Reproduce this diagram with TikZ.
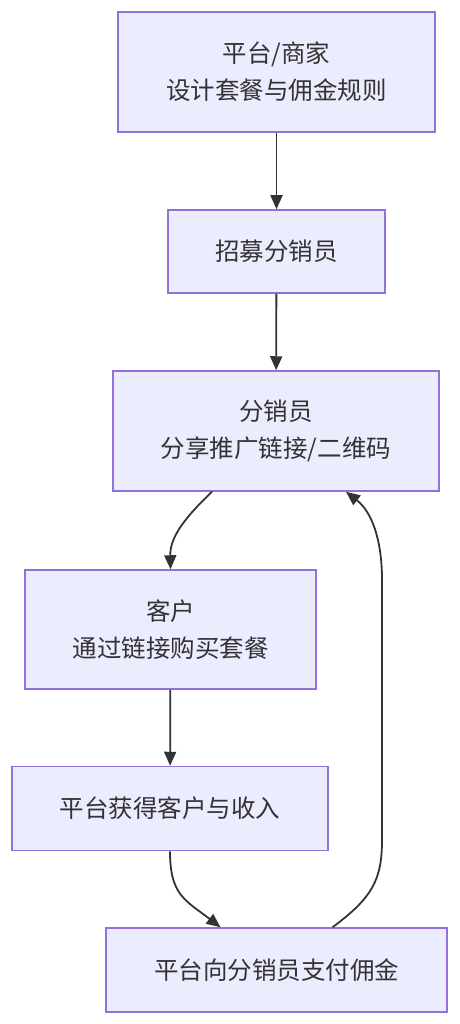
\documentclass[tikz,border=0pt]{standalone}
\usepackage{fontspec}
\usepackage{tikz}
\usetikzlibrary{arrows.meta}
\newfontfamily\cjk{Noto Sans CJK SC}
\definecolor{boxfill}{HTML}{ECECFF}
\definecolor{boxline}{HTML}{9370DB}
\definecolor{ink}{HTML}{333333}

\begin{document}
\begin{tikzpicture}[x=1pt,y=-1pt,
  >={Triangle[length=14pt,width=12pt]},
  box/.style={draw=boxline,fill=boxfill,line width=1.5pt,text=ink,align=center,
    inner sep=0pt,font=\cjk\fontsize{24.5}{37}\selectfont},
  link/.style={->,draw=ink,line width=1.8pt}]
			\useasboundingbox (0,0) rectangle (459,1024);
			\node[box,minimum width=317pt,minimum height=120pt] (plat) at (276.5,72) {平台/商家\\设计套餐与佣金规则};
			\node[box,minimum width=217pt,minimum height=83pt] (recruit) at (276.5,251.5) {招募分销员};
			\node[box,minimum width=326pt,minimum height=120pt] (dist) at (276,431) {分销员\\分享推广链接/二维码};
			\node[box,minimum width=291pt,minimum height=119pt] (cust) at (170.5,629.5) {客户\\通过链接购买套餐};
			\node[box,minimum width=316pt,minimum height=84pt] (income) at (170,808.5) {平台获得客户与收入};
			\node[box,minimum width=341pt,minimum height=84pt] (pay) at (276.5,970) {平台向分销员支付佣金};
			\draw[link] (plat) -- (recruit);
			\draw[link] (recruit) -- (dist);
			\draw[link] ([xshift=-64pt]dist.south) .. controls (180,522) and (170,540) .. (cust.north);
			\draw[link] (cust) -- (income);
			\draw[link] (income.south) .. controls (170,895) and (185,900) .. ([xshift=-56pt]pay.north);
			\draw[link] ([xshift=56pt]pay.north) .. controls (372,898) and (382,880) .. (382,840)
				-- (382,580) .. controls (382,540) and (372,512) .. ([xshift=70pt]dist.south);
		\end{tikzpicture}
\end{document}
